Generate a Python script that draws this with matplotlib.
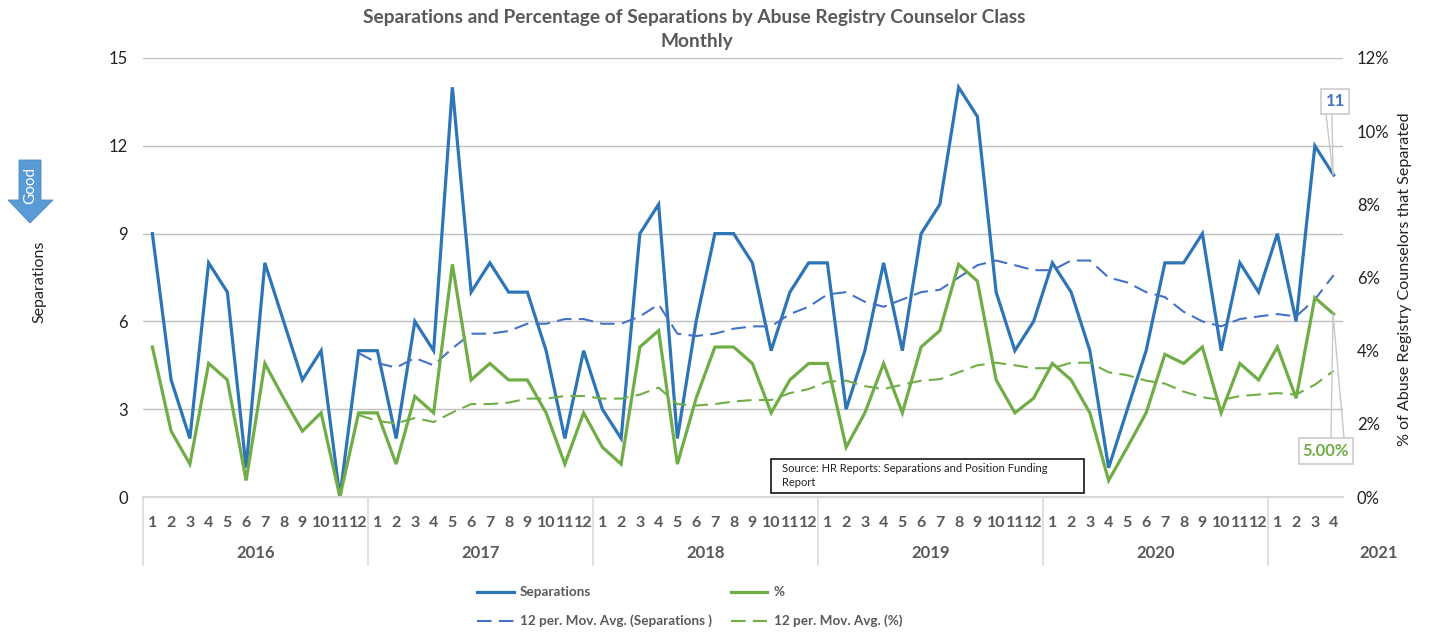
import numpy as np
import matplotlib
matplotlib.use("Agg")
import matplotlib.pyplot as plt
from matplotlib.lines import Line2D
from matplotlib.patches import Polygon, Rectangle

plt.rcParams["font.family"] = ["Lato", "DejaVu Sans"]

BLUE, GREEN, DASH_BLUE = "#2E75B6", "#70AD47", "#4472C4"
GRID, AXIS, GRAYTXT, LEADER = "#BFBFBF", "#D9D9D9", "#595959", "#C8C8C8"

YEARS = ["2016", "2017", "2018", "2019", "2020", "2021"]
MONTHS_IN_YEAR = [12, 12, 12, 12, 12, 4]

separations = [9, 4, 2, 8, 7, 1, 8, 6, 4, 5, 0, 5,
               5, 2, 6, 5, 14, 7, 8, 7, 7, 5, 2, 5,
               3, 2, 9, 10, 2, 6, 9, 9, 8, 5, 7, 8,
               8, 3, 5, 8, 5, 9, 10, 14, 13, 7, 5, 6,
               8, 7, 5, 1, 3, 5, 8, 8, 9, 5, 8, 7,
               9, 6, 12, 11]
percent = [4.1, 1.8, 0.9, 3.65, 3.2, 0.45, 3.65, 2.7, 1.8, 2.3, 0.0, 2.3,
           2.3, 0.9, 2.75, 2.3, 6.36, 3.2, 3.65, 3.2, 3.2, 2.3, 0.9, 2.3,
           1.36, 0.9, 4.1, 4.55, 0.9, 2.7, 4.1, 4.1, 3.65, 2.3, 3.2, 3.65,
           3.65, 1.36, 2.3, 3.65, 2.3, 4.1, 4.55, 6.36, 5.9, 3.2, 2.3, 2.7,
           3.65, 3.2, 2.3, 0.45, 1.36, 2.3, 3.9, 3.65, 4.1, 2.3, 3.65, 3.2,
           4.1, 2.7, 5.45, 5.0]
# moving averages start at the 12th month
avg_separations = [4.92, 4.58, 4.42, 4.75, 4.5, 5.08, 5.58, 5.58, 5.67, 5.92,
                   5.92, 6.08, 6.08, 5.92, 5.92, 6.17, 6.58, 5.58, 5.5, 5.58,
                   5.75, 5.83, 5.83, 6.25, 6.5, 6.92, 7.0, 6.67, 6.5, 6.75,
                   7.0, 7.08, 7.5, 7.92, 8.08, 7.92, 7.75, 7.75, 8.08, 8.08,
                   7.5, 7.33, 7.0, 6.83, 6.33, 6.0, 5.83, 6.08, 6.17, 6.25,
                   6.17, 6.75, 7.58]
avg_percent = [2.24, 2.08, 2.01, 2.16, 2.05, 2.31, 2.54, 2.54, 2.58, 2.69,
               2.69, 2.76, 2.76, 2.69, 2.69, 2.80, 2.99, 2.54, 2.50, 2.54,
               2.61, 2.65, 2.65, 2.84, 2.95, 3.15, 3.18, 3.03, 2.95, 3.07,
               3.18, 3.22, 3.41, 3.60, 3.67, 3.60, 3.52, 3.52, 3.67, 3.67,
               3.41, 3.33, 3.18, 3.10, 2.88, 2.73, 2.65, 2.76, 2.80, 2.84,
               2.80, 3.07, 3.45]

W, H = 1429, 634


def fx(px):
    return px / W


def fy(py):
    return 1 - py / H


def fig_line(fig, xs, ys, **kw):
    fig.add_artist(Line2D([fx(x) for x in xs], [fy(y) for y in ys], **kw))


def fig_label(fig, px, py, s, **kw):
    kw.setdefault("va", "center")
    fig.text(fx(px), fy(py), s, **kw)


fig = plt.figure(figsize=(W / 100, H / 100), dpi=100)
ax = fig.add_axes([fx(143), fy(497), 1200 / W, 439 / H])
ax2 = ax.twinx()

x = np.arange(len(separations))
x_avg = x[11:]
ax.plot(x, separations, color=BLUE, lw=2.3, solid_joinstyle="miter", clip_on=False)
ax.plot(x_avg, avg_separations, color=DASH_BLUE, lw=1.5, dashes=(7, 3.5))
ax2.plot(x, percent, color=GREEN, lw=2.3, solid_joinstyle="miter", clip_on=False)
ax2.plot(x_avg, avg_percent, color=GREEN, lw=1.5, dashes=(7, 3.5))

ax.set_xlim(-0.5, len(x) - 0.5)
ax.set_ylim(0, 15)
ax2.set_ylim(0, 12)
ax.set_yticks(range(0, 16, 3))
ax2.set_yticks(range(0, 13, 2))
ax2.set_yticklabels([f"{v}%" for v in range(0, 13, 2)])
ax.grid(axis="y", color=GRID, lw=1.0)
ax.set_axisbelow(True)

month_labels = [str(m + 1) for n in MONTHS_IN_YEAR for m in range(n)]
ax.set_xticks(x)
ax.set_xticklabels(month_labels, fontsize=11.5, fontweight="bold", color=GRAYTXT)
ax.tick_params(axis="x", length=0, pad=14)
ax.tick_params(axis="y", length=0, pad=11, labelsize=12, labelcolor="#222222")
ax2.tick_params(axis="y", length=0, pad=10, labelsize=12, labelcolor="#222222")

for a in (ax, ax2):
    for name in ("top", "left", "right"):
        a.spines[name].set_visible(False)
    a.spines["bottom"].set_color(AXIS)
    a.spines["bottom"].set_linewidth(1.5)

# year bands below the months
start = 0
for year, n in zip(YEARS, MONTHS_IN_YEAR):
    left = 143 + start * 18.75
    fig_line(fig, [left, left], [497, 565], color=AXIS, lw=1.1)
    centre = left + n * 18.75 / 2 if year != "2021" else 1379
    fig_label(fig, centre, 553, year, ha="center", fontsize=12,
              fontweight="bold", color=GRAYTXT)
    start += n

fig_label(fig, 694, 17, "Separations and Percentage of Separations by Abuse Registry Counselor Class",
          ha="center", fontsize=13.8, fontweight="bold", color=GRAYTXT)
fig_label(fig, 697, 42, "Monthly", ha="center", fontsize=13.8, fontweight="bold", color=GRAYTXT)

fig_label(fig, 39, 282, "Separations", rotation=90, ha="center", fontsize=11.5, color="#222222")
fig_label(fig, 1405, 279, "% of Abuse Registry Counselors that Separated", rotation=90,
          ha="center", fontsize=11.6, color="#222222")

# "Good" arrow
arrow = [(19, 160), (41, 160), (41, 200), (53, 200), (30, 223), (8, 200), (19, 200)]
fig.add_artist(Polygon([(fx(a), fy(b)) for a, b in arrow], closed=True,
                       facecolor="#5B9BD5", edgecolor="#4A89C5", lw=0.6,
                       transform=fig.transFigure))
fig_label(fig, 30, 185, "Good", rotation=90, ha="center", fontsize=11, color="white")

# source note
fig.add_artist(Rectangle((fx(771), fy(493)), 313 / W, 34 / H, facecolor="white",
                         edgecolor="black", lw=1.1, transform=fig.transFigure, zorder=5))
fig_label(fig, 782, 469, "Source: HR Reports: Separations and Position Funding",
          fontsize=8.0, color="#222222", zorder=6)
fig_label(fig, 782, 483, "Report", fontsize=8.0, color="#222222", zorder=6)

# value callouts with leaders
fig_line(fig, [1326, 1333, 1332], [114, 175, 114], color=LEADER, lw=1.0, zorder=4)
fig.add_artist(Rectangle((fx(1321), fy(114)), 28 / W, 25 / H, facecolor="white",
                         edgecolor=LEADER, lw=1.1, transform=fig.transFigure, zorder=5))
fig_label(fig, 1335, 101, "11", ha="center", fontsize=12, fontweight="bold",
          color=DASH_BLUE, zorder=6)

fig_line(fig, [1331, 1333, 1344], [438, 314, 438], color=LEADER, lw=1.0, zorder=4)
fig.add_artist(Rectangle((fx(1299), fy(464)), 54 / W, 26 / H, facecolor="white",
                         edgecolor=LEADER, lw=1.1, transform=fig.transFigure, zorder=5))
fig_label(fig, 1326, 451, "5.00%", ha="center", fontsize=12, fontweight="bold",
          color=GREEN, zorder=6)

# legend, laid out as two rows
fig_line(fig, [477, 514], [592, 592], color=BLUE, lw=2.3)
fig_label(fig, 520, 592, "Separations", fontsize=9.7, fontweight="bold", color=GRAYTXT)
fig_line(fig, [731, 767], [592, 592], color=GREEN, lw=2.3)
fig_label(fig, 774, 592, "%", fontsize=9.7, fontweight="bold", color=GRAYTXT)
fig_line(fig, [477, 514], [621, 621], color=DASH_BLUE, lw=1.5, dashes=(7, 3.5))
fig_label(fig, 520, 621, "12 per. Mov. Avg. (Separations )", fontsize=9.7,
          fontweight="bold", color=GRAYTXT)
fig_line(fig, [731, 767], [621, 621], color=GREEN, lw=1.5, dashes=(7, 3.5))
fig_label(fig, 774, 621, "12 per. Mov. Avg. (%)", fontsize=9.7,
          fontweight="bold", color=GRAYTXT)

fig.savefig("out.png", dpi=100)
plt.close(fig)
